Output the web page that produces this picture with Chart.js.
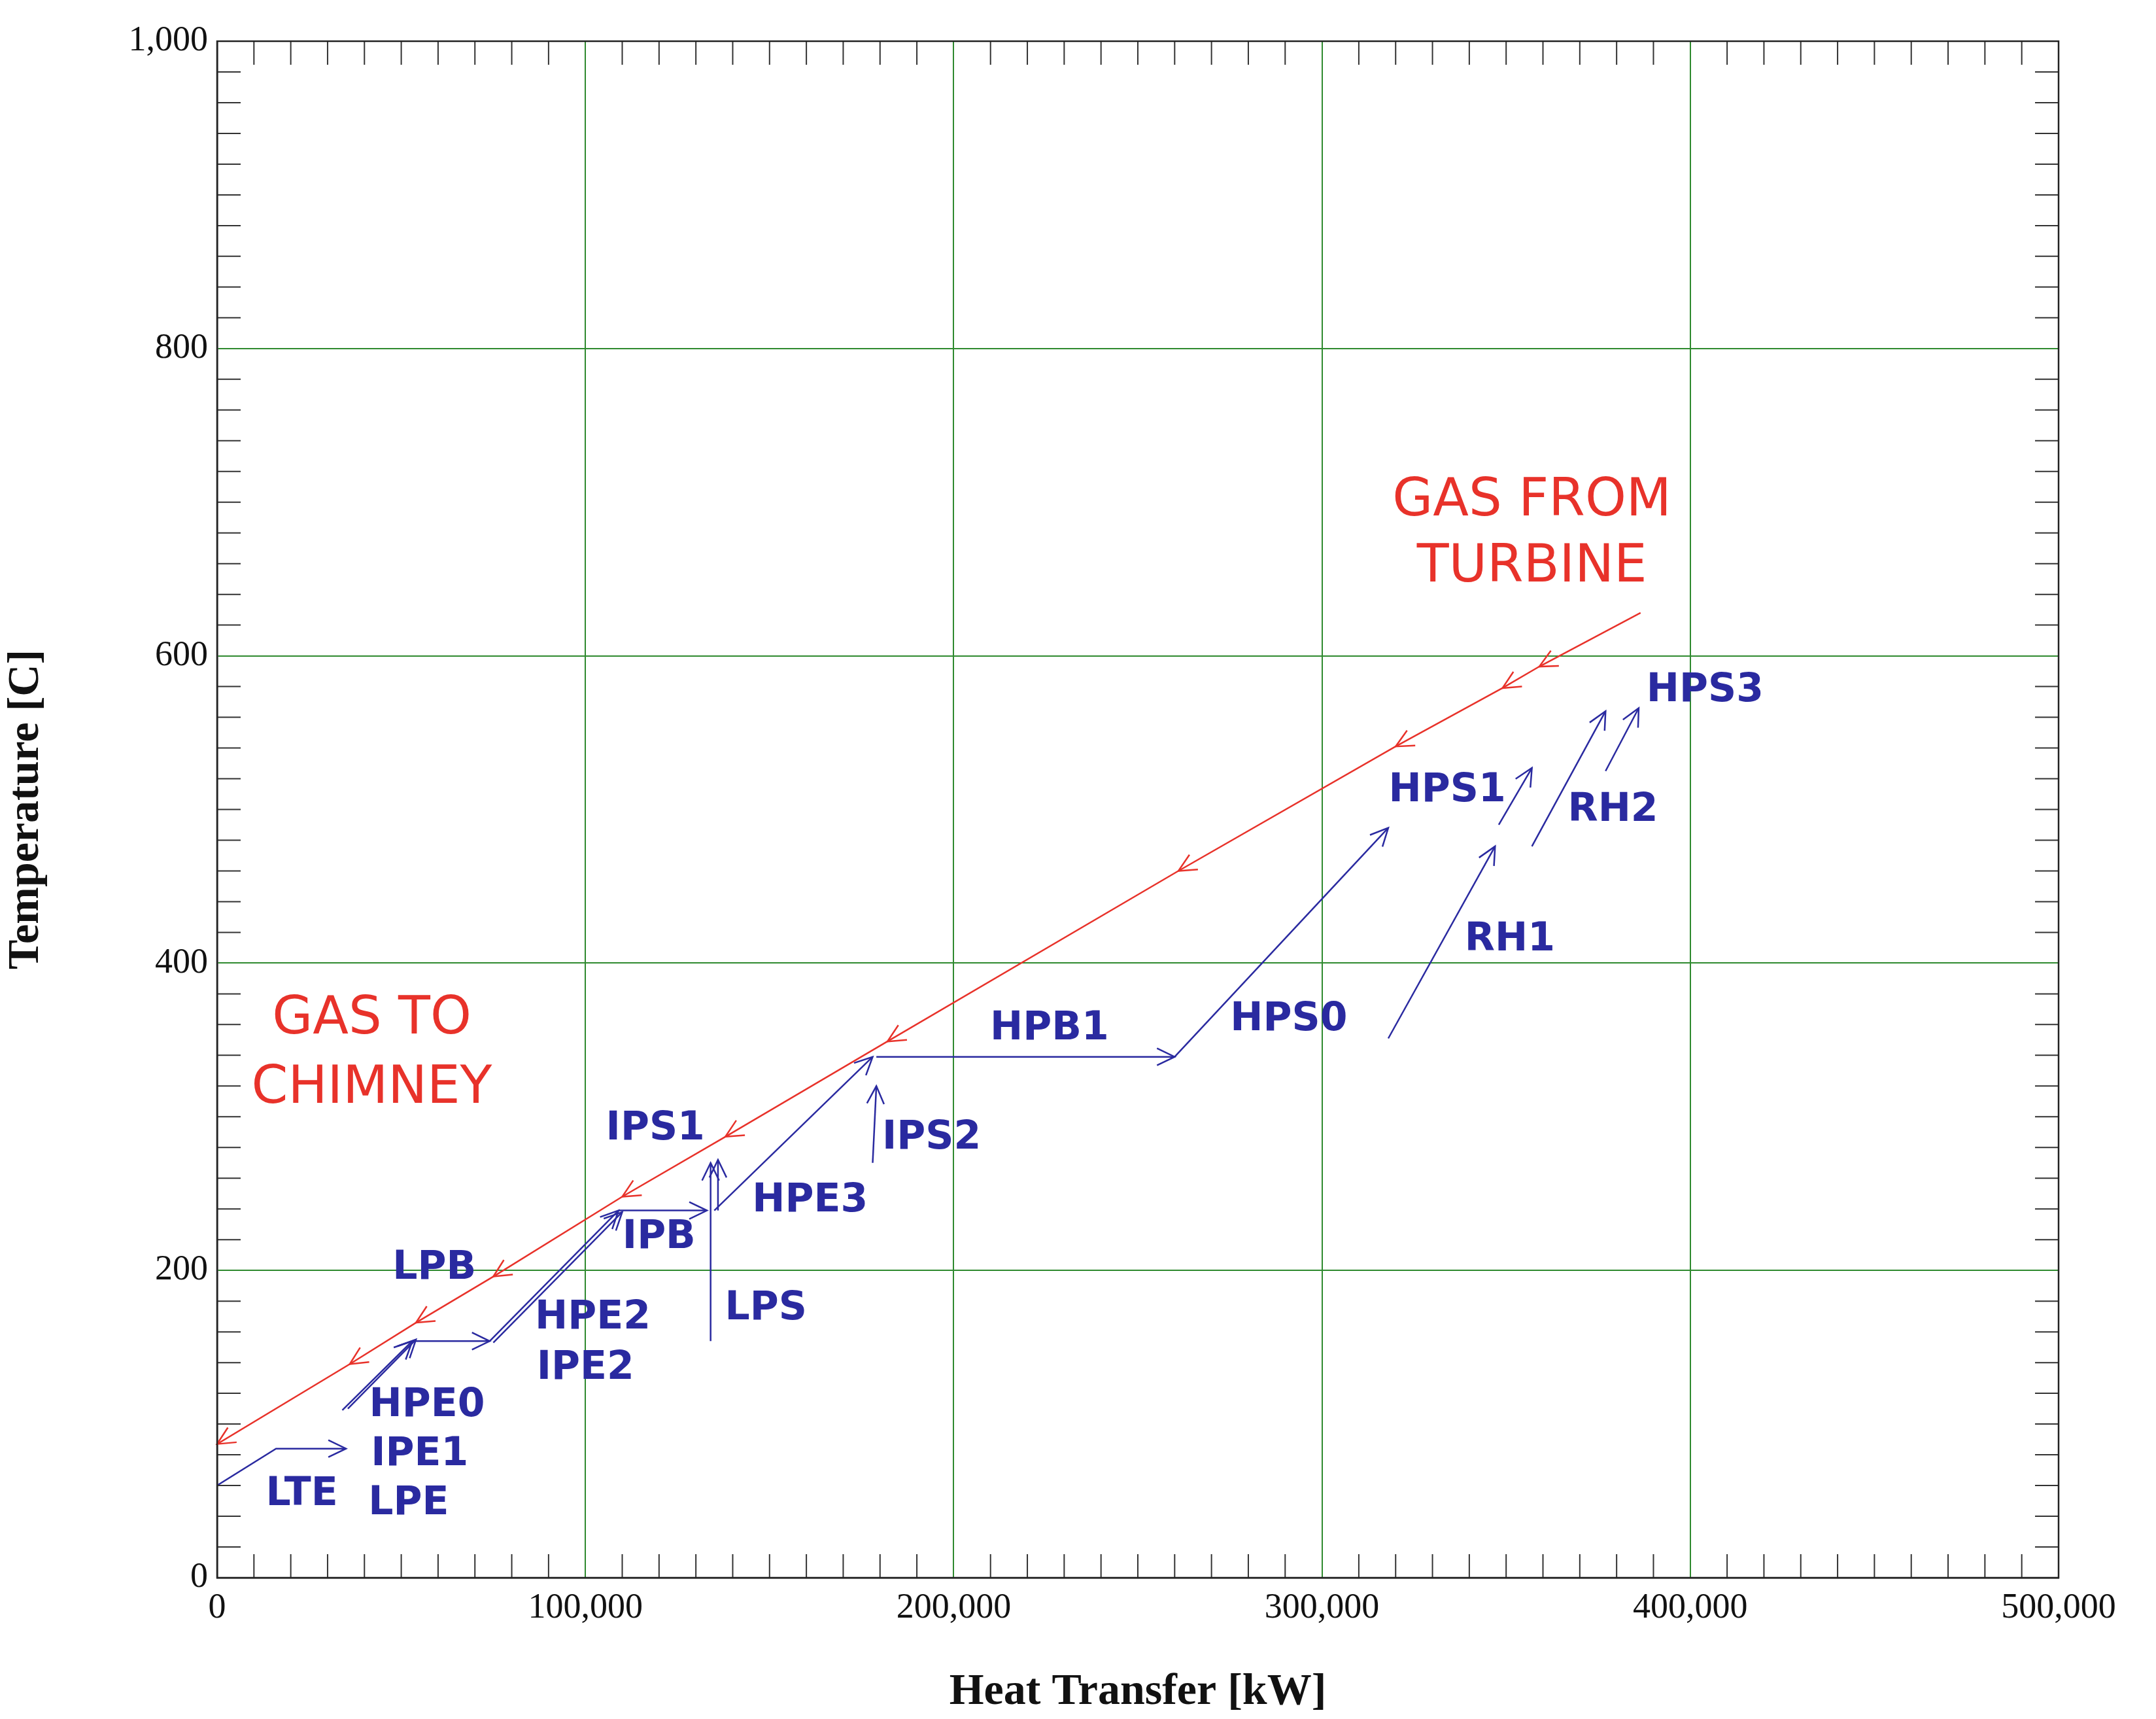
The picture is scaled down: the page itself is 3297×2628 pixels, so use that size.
<!DOCTYPE html>
<html>
<head>
<meta charset="utf-8">
<script src="https://cdn.jsdelivr.net/npm/chart.js@4.4.1/dist/chart.umd.min.js"></script>
<style>
  html, body { margin: 0; padding: 0; background: #fff; }
  #wrap { width: 3297px; height: 2628px; }
</style>
</head>
<body>
<div id="wrap"><canvas id="tq"></canvas></div>
<script>
// gas side (hot to cold), kW / C
const gasQ = [386500, 359000, 349000, 320000, 261000, 182000, 138000, 110000, 75000, 54000, 36000, 0];
const gasT = [628, 593, 579, 541, 460, 349, 287, 248, 196, 166, 139, 87];

// water/steam side: one path per section, [kW, C]
const pathLTE   = [[0, 60], [16000, 84], [35000, 84]];
const pathHPE0  = [[34000, 109], [53000, 154]];
const pathIPE1  = [[35500, 110], [54000, 155]];
const pathEcoH  = [[53000, 154], [74000, 154]];
const pathHPE2  = [[74000, 154], [109000, 239]];
const pathIPE2  = [[75000, 153], [110000, 238]];
const pathIPB   = [[109000, 239], [133000, 239]];
const pathLPS   = [[134000, 154], [134000, 270]];
const pathIPS1  = [[136000, 239], [136000, 272]];
const pathHPE3  = [[135000, 239], [178000, 339]];
const pathIPS2  = [[178000, 270], [179000, 320]];
const pathHPB1  = [[179000, 339], [260000, 339]];
const pathHPS0  = [[260000, 339], [318000, 488]];
const pathRH1   = [[318000, 351], [347000, 476]];
const pathHPS1  = [[348000, 490], [357000, 527]];
const pathRH2   = [[357000, 476], [377000, 564]];
const pathHPS3  = [[377000, 525], [386000, 566]];
const waterPaths = [pathLTE, pathHPE0, pathIPE1, pathEcoH, pathHPE2, pathIPE2, pathIPB, pathLPS,
  pathIPS1, pathHPE3, pathIPS2, pathHPB1, pathHPS0, pathRH1, pathHPS1, pathRH2, pathHPS3];

// section labels [text, kW, C]
const blueLabels = [
  ['LTE', 23000, 54], ['HPE0', 57000, 112], ['IPE1', 55000, 80], ['LPE', 52000, 48],
  ['HPE2', 102000, 169], ['IPE2', 100000, 136], ['LPB', 59000, 201], ['IPB', 120000, 221],
  ['IPS1', 119000, 292], ['LPS', 149000, 175], ['HPE3', 161000, 245], ['IPS2', 194000, 286],
  ['HPB1', 226000, 357], ['HPS0', 291000, 363], ['HPS1', 334000, 512], ['RH1', 351000, 415],
  ['RH2', 379000, 499], ['HPS3', 404000, 577]
];
const redLabels = [
  ['GAS FROM', 357000, 700], ['TURBINE', 357000, 657],
  ['GAS TO', 42000, 363], ['CHIMNEY', 42000, 318]
];

const RED = '#e8322a';
const BLUE = '#2a2aa0';
const GRID = '#2f8a2f';

const datasets = [{
  label: 'gas',
  data: gasQ.map((q, i) => ({ x: q, y: gasT[i] })),
  borderColor: RED, borderWidth: 2.5, pointRadius: 0, showLine: true,
  arrows: 'all'
}];
waterPaths.forEach(p => datasets.push({
  label: 'water',
  data: p.map(([x, y]) => ({ x, y })),
  borderColor: BLUE, borderWidth: 2.5, pointRadius: 0, showLine: true,
  arrows: 'end'
}));

function arrowHead(ctx, x0, y0, x1, y1, color) {
  const a = Math.atan2(y1 - y0, x1 - x0), L = 30, w = 0.45;
  ctx.save();
  ctx.strokeStyle = color; ctx.lineWidth = 2.5;
  ctx.beginPath();
  ctx.moveTo(x1 - L * Math.cos(a - w), y1 - L * Math.sin(a - w));
  ctx.lineTo(x1, y1);
  ctx.lineTo(x1 - L * Math.cos(a + w), y1 - L * Math.sin(a + w));
  ctx.stroke();
  ctx.restore();
}

const decor = {
  id: 'decor',
  afterDatasetsDraw(chart) {
    const { ctx, chartArea: a, scales: { x, y } } = chart;
    // minor ticks, inward on all four sides
    ctx.save();
    ctx.strokeStyle = '#333'; ctx.lineWidth = 2;
    ctx.beginPath();
    for (let v = 0; v <= 500000; v += 10000) {
      const px = x.getPixelForValue(v), len = v % 100000 ? 36 : 0;
      ctx.moveTo(px, a.bottom); ctx.lineTo(px, a.bottom - len);
      ctx.moveTo(px, a.top); ctx.lineTo(px, a.top + len);
    }
    for (let v = 0; v <= 1000; v += 20) {
      const py = y.getPixelForValue(v), len = v % 200 ? 36 : 0;
      ctx.moveTo(a.left, py); ctx.lineTo(a.left + len, py);
      ctx.moveTo(a.right, py); ctx.lineTo(a.right - len, py);
    }
    ctx.stroke();
    ctx.restore();

    // arrowheads
    chart.data.datasets.forEach(ds => {
      const pts = ds.data.map(p => [x.getPixelForValue(p.x), y.getPixelForValue(p.y)]);
      const from = ds.arrows === 'all' ? 1 : pts.length - 1;
      for (let i = from; i < pts.length; i++)
        arrowHead(ctx, pts[i - 1][0], pts[i - 1][1], pts[i][0], pts[i][1], ds.borderColor);
    });

    // labels
    ctx.save();
    ctx.textAlign = 'center'; ctx.textBaseline = 'middle';
    ctx.fillStyle = BLUE; ctx.font = 'bold 60px "DejaVu Sans"';
    blueLabels.forEach(([t, q, T]) => ctx.fillText(t, x.getPixelForValue(q), y.getPixelForValue(T)));
    ctx.fillStyle = RED; ctx.font = '80px "DejaVu Sans"';
    redLabels.forEach(([t, q, T]) => ctx.fillText(t, x.getPixelForValue(q), y.getPixelForValue(T)));
    ctx.restore();
  }
};

new Chart(document.getElementById('tq'), {
  type: 'scatter',
  data: { datasets },
  options: {
    responsive: true, maintainAspectRatio: false, animation: false,
    layout: { padding: { left: 0, right: 149, top: 63, bottom: 0 } },
    plugins: { legend: { display: false }, tooltip: { enabled: false } },
    scales: {
      x: {
        min: 0, max: 500000,
        afterFit: s => { s.height = 216; },
        ticks: {
          stepSize: 100000, color: '#111', padding: 14,
          font: { family: '"Liberation Serif"', size: 54 },
          callback: v => v.toLocaleString('en-US'), maxRotation: 0
        },
        grid: { color: GRID, lineWidth: 2, drawTicks: false },
        border: { color: '#222', width: 2.5 },
        title: { display: true, text: 'Heat Transfer [kW]', color: '#111', padding: 0,
          font: { family: '"Liberation Serif"', size: 68, weight: 'bold' } }
      },
      y: {
        min: 0, max: 1000,
        afterFit: s => { s.width = 332; },
        ticks: {
          stepSize: 200, color: '#111', padding: 14,
          font: { family: '"Liberation Serif"', size: 54 }
        },
        grid: { color: GRID, lineWidth: 2, drawTicks: false },
        border: { color: '#222', width: 2.5 },
        title: { display: true, text: 'Temperature [C]', color: '#111', padding: 0,
          font: { family: '"Liberation Serif"', size: 68, weight: 'bold' } }
      }
    }
  },
  plugins: [decor, {
    id: 'frame',
    afterDraw(chart) {
      const { ctx, chartArea: a } = chart;
      ctx.save(); ctx.strokeStyle = '#222'; ctx.lineWidth = 2.5;
      ctx.strokeRect(a.left, a.top, a.right - a.left, a.bottom - a.top);
      ctx.restore();
    }
  }]
});
</script>
</body>
</html>
